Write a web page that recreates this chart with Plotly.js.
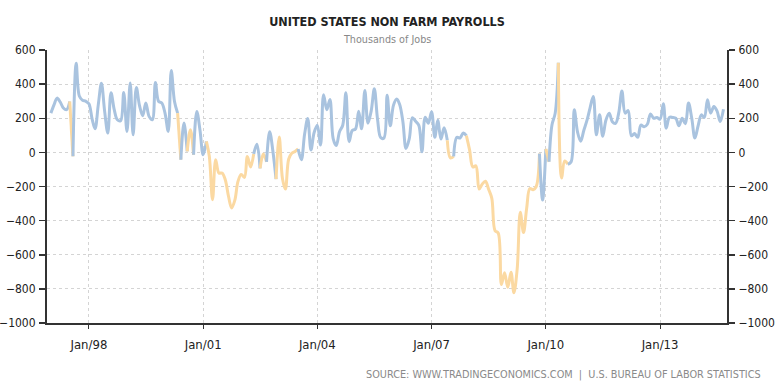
<!DOCTYPE html>
<html><head><meta charset="utf-8">
<script src="https://cdn.plot.ly/plotly-3.0.1.min.js"></script>
<style>html,body{margin:0;padding:0;background:#fff}#chart{width:781px;height:392px}</style>
</head><body><div id="chart"></div>
<script>
// Monthly change in non-farm payrolls (thousands), Jan 1997 - Sep 2014
const firstMonth = '1997-01';
const y1997 = [230, 280, 318, 295, 260, 250, 298, -23, 523, 330, 305, 300];
const y1998 = [285, 195, 138, 280, 405, 240, 113, 350, 250, 191, 185, 351];
const y1999 = [123, 406, 103, 380, 275, 215, 289, 211, 191, 410, 298, 290];
const y2000 = [230, 123, 480, 298, 230, -43, 172, 6, 133, -14, 240, 133];
const y2001 = [-14, 64, -23, -277, -43, -121, -121, -160, -257, -326, -280, -170];
const y2002 = [-129, -147, -24, -85, -9, 48, -94, -10, -56, 121, 7, -157];
const y2003 = [90, -154, -215, -40, -5, 5, 20, -43, 106, 198, 14, 115];
const y2004 = [159, 43, 337, 250, 310, 81, 40, 121, 159, 349, 63, 128];
const y2005 = [137, 241, 138, 362, 171, 243, 373, 192, 86, 84, 335, 156];
const y2006 = [277, 313, 281, 180, 23, 80, 203, 182, 158, 4, 206, 171];
const y2007 = [238, 88, 188, 78, 144, 71, -33, -24, 88, 84, 114, 98];
const y2008 = [13, -86, -79, -215, -186, -169, -216, -270, -459, -472, -775, -705];
const y2009 = [-791, -703, -823, -686, -351, -470, -329, -212, -219, -200, -7, -279];
const y2010 = [20, -55, 160, 230, 525, -150, -50, -70, -55, 250, 120, 65];
const y2011 = [130, 190, 260, 328, 103, 220, 95, 190, 230, 180, 170, 230];
const y2012 = [360, 230, 245, 97, 110, 88, 160, 150, 165, 225, 200, 205];
const y2013 = [195, 285, 142, 205, 205, 200, 156, 200, 168, 289, 200, 84];
const y2014 = [156, 220, 205, 308, 230, 269, 243, 181, 253];

// Periods drawn in the second (orange) colour: [from month, to month]
const orangePeriods = [
  ['1997-07', '1997-08'],
  ['2000-05', '2000-06'],
  ['2000-08', '2000-10'],
  ['2001-02', '2002-05'],
  ['2002-07', '2002-09'],
  ['2002-12', '2003-07'],
  ['2007-06', '2007-08'],
  ['2007-12', '2009-11'],
  ['2010-01', '2010-02'],
  ['2010-05', '2010-08']
];

const xTickLabels = ['Jan/98', 'Jan/01', 'Jan/04', 'Jan/07', 'Jan/10', 'Jan/13'];
const xTickDates = ['1998-01-01', '2001-01-01', '2004-01-01', '2007-01-01', '2010-01-01', '2013-01-01'];

const values = [].concat(y1997, y1998, y1999, y2000, y2001, y2002, y2003, y2004,
  y2005, y2006, y2007, y2008, y2009, y2010, y2011, y2012, y2013, y2014);

function monthKey(i) {
  const [y0, m0] = firstMonth.split('-').map(Number);
  const t = (y0 * 12 + (m0 - 1)) + i;
  const y = Math.floor(t / 12), m = t % 12 + 1;
  return y + '-' + String(m).padStart(2, '0');
}
const months = values.map((_, i) => monthKey(i));
const dates = months.map(m => m + '-01');
const idx = {}; months.forEach((m, i) => idx[m] = i);

// segment i (from point i to i+1) orange?
const segOrange = [];
for (let i = 0; i < values.length - 1; i++) {
  segOrange.push(orangePeriods.some(([a, b]) => i >= idx[a] && i + 1 <= idx[b]));
}

const BLUE = '#a9c3df', ORANGE = '#fbd9a2';
const traces = [];
let start = 0;
for (let i = 1; i <= segOrange.length; i++) {
  if (i === segOrange.length || segOrange[i] !== segOrange[start]) {
    const xs = dates.slice(start, i + 1), ys = values.slice(start, i + 1);
    traces.push({
      x: xs, y: ys, type: 'scatter', mode: 'lines',
      line: {color: segOrange[start] ? ORANGE : BLUE, width: 3, shape: 'spline', smoothing: 1},
      hoverinfo: 'x+y', showlegend: false
    });
    start = i;
  }
}
// helper trace so the right-hand axis is drawn
traces.push({x: [dates[0]], y: [0], yaxis: 'y2', type: 'scatter', mode: 'markers',
  marker: {opacity: 0}, hoverinfo: 'skip', showlegend: false});

const tickFont = {family: 'DejaVu Sans Condensed, DejaVu Sans, sans-serif', size: 12, color: '#222'};
const yCommon = {
  range: [-1000, 600], dtick: 200, tick0: 0, ticks: 'outside', ticklen: 6, tickwidth: 1.5,
  tickcolor: '#333', showline: true, linecolor: '#333', linewidth: 2, zeroline: false,
  tickfont: tickFont, fixedrange: true, ticklabelstandoff: 1
};
const layout = {
  width: 781, height: 392,
  margin: {l: 47, r: 54, t: 50, b: 69},
  paper_bgcolor: '#ffffff', plot_bgcolor: '#ffffff',
  showlegend: false,
  title: {
    text: 'UNITED STATES NON FARM PAYROLLS',
    font: {family: 'DejaVu Sans Condensed, DejaVu Sans, sans-serif', size: 12.5, color: '#222', weight: 'bold'},
    x: 0.5, xref: 'paper', xanchor: 'center', y: 1 - 22 / 392, yref: 'container', yanchor: 'middle'
  },
  xaxis: {
    type: 'date', range: ['1996-11-25', '2014-10-05'],
    tickvals: xTickDates, ticktext: xTickLabels,
    ticks: 'outside', ticklen: 4, tickcolor: '#333',
    showline: true, linecolor: '#333', linewidth: 2,
    showgrid: true, gridcolor: '#d4d4d4', griddash: 'dot', gridwidth: 1,
    tickfont: {family: 'DejaVu Sans Condensed, DejaVu Sans, sans-serif', size: 13, color: '#222'},
    zeroline: false, ticklabelstandoff: 4
  },
  yaxis: Object.assign({}, yCommon, {showgrid: true, gridcolor: '#d4d4d4', griddash: 'dot', gridwidth: 1}),
  yaxis2: Object.assign({}, yCommon, {overlaying: 'y', side: 'right', showgrid: false}),
  annotations: [
    {text: 'Thousands of Jobs', xref: 'paper', yref: 'paper', x: 0.5, y: 1 + 10 / 273,
     xanchor: 'center', yanchor: 'middle', showarrow: false,
     font: {family: 'DejaVu Sans Condensed, DejaVu Sans, sans-serif', size: 10.7, color: '#888'}},
    {text: 'SOURCE: WWW.TRADINGECONOMICS.COM  |  U.S. BUREAU OF LABOR STATISTICS', xref: 'paper', yref: 'paper',
     x: (763 - 47) / 680, y: -(374 - 323) / 273, xanchor: 'right', yanchor: 'middle', showarrow: false,
     font: {family: 'DejaVu Sans Condensed, DejaVu Sans, sans-serif', size: 10.8, color: '#8a8a8a'}}
  ]
};
Plotly.newPlot('chart', traces, layout, {displayModeBar: false, staticPlot: true});
</script></body></html>
